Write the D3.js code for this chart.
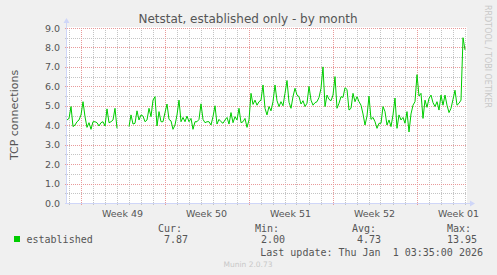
<!DOCTYPE html>
<html><head><meta charset="utf-8">
<script src="https://cdn.jsdelivr.net/npm/d3@7"></script>
<style>
html,body{margin:0;padding:0;background:#F0F0F0;}
svg{display:block;}
text{font-family:"DejaVu Sans",sans-serif;}
.mono{font-family:"DejaVu Sans Mono",monospace;white-space:pre;}
</style></head>
<body><svg id="c" width="497" height="275"></svg>
<script>
// ---- data ----
const title = "Netstat, established only - by month";
const yLabel = "TCP connections";
const seriesName = "established";
const startTime = Date.UTC(2025, 10, 29, 21, 0);   // first sample
const endTime = Date.UTC(2026, 0, 2, 5, 0);        // right edge of graph
const stepHours = 4;
const yTicks = [0, 1, 2, 3, 4, 5, 6, 7, 8, 9];
const values = [
  4.27, 4.35, 4.96, 3.93, 4.01, 4.18, 4.27, 4.53, 5.21, 4.44,
  3.89, 4.13, 3.79, 4.18, 4.18, 4.13, 3.96, 4.13, 4.18, 3.96,
  4.84, 4.13, 4.18, 4.27, 4.87, 3.84, null, null, null, null,
  null, 3.93, 4.53, 4.06, 4.1, 4.74, 4.27, 4.53, 4.47, 4.18,
  4.27, 4.87, 4.44, 5.29, 5.47, 3.96, 4.70, 4.18, 4.18, 4.65,
  5.09, 4.30, 4.22, 3.79, 4.01, 4.53, 5.29, 4.18, 4.4, 4.18,
  4.47, 4.18, 4.35, 3.79, 4.18, 4.18, 4.30, 5.1, 4.3, 4.13,
  4.18, 4.18, 4.01, 4.44, 5.0, 4.06, 4.3, 4.18, 4.1, 4.27,
  4.4, 4.06, 4.65, 4.13, 4.44, 4.27, 4.87, 4.13, 4.18, 4.35,
  3.89, 4.27, 5.64, 5.07, 5.29, 5.03, 5.21, 5.29, 6.07, 4.87,
  4.53, 4.96, 4.74, 5.21, 6.07, 5.26, 4.96, 5.21, 5.0, 5.64,
  6.3, 5.18, 4.87, 5.47, 5.9, 5.55, 5.47, 5.09, 5.26, 4.96,
  5.13, 6.0, 5.29, 5.03, 5.16, 5.21, 5.43, 5.9, 7.0, 4.96,
  5.55, 5.33, 5.26, 5.55, 6.5, 4.87, 5.13, 5.47, 5.43, 5.93,
  5.84, 4.78, 4.87, 5.64, 5.21, 5.47, 5.21, 5.03, 4.58, 4.01,
  4.47, 5.5, 4.3, 4.40, 4.18, 3.84, 4.10, 4.10, 4.96, 4.70,
  4.01, 4.27, 3.93, 4.53, 5.4, 3.84, 4.53, 4.27, 4.40, 4.10,
  4.70, 3.65, 4.58, 5.03, 5.21, 6.6, 5.5, 5.64, 4.35, 5.29,
  4.92, 5.38, 5.55, 5.16, 4.96, 5.21, 4.78, 5.55, 5.03, 5.55,
  5.03, 4.65, 4.87, 5.33, 5.8, 5.03, 5.13, 5.29, 8.5, 7.87
];
const statLabels = ["Cur:", "Min:", "Avg:", "Max:"];
const statValues = ["7.87", "2.00", "4.73", "13.95"];
const lastUpdate = "Last update: Thu Jan  1 03:35:00 2026";
const footer = "Munin 2.0.73";
const watermark = "RRDTOOL / TOBI OETIKER";

// ---- layout ----
const L = 67, R = 467, T = 28, B = 203;
const svg = d3.select("#c");
const x = d3.scaleUtc().domain([new Date(startTime), new Date(endTime)]).range([L, R]);
const y = d3.scaleLinear().domain([0, 9]).range([B, T]);
const px = v => Math.round(v) + 0.5;

svg.append("rect").attr("x", L).attr("y", T - 1).attr("width", R - L).attr("height", B - T + 1).attr("fill", "#fff");

// minor grid
const minorH = d3.range(0, 9.01, 0.5).filter(v => v % 1 !== 0);
const g = svg.append("g");
g.selectAll(".mh").data(minorH).join("line")
  .attr("x1", L - 2).attr("x2", R).attr("y1", d => px(y(d))).attr("y2", d => px(y(d)))
  .attr("stroke", "#c4c4c4").attr("stroke-dasharray", "1,1");
const days = d3.utcDay.range(new Date(startTime), new Date(endTime)).filter(d => d.getUTCDay() !== 1);
g.selectAll(".mv").data(days).join("line")
  .attr("x1", d => px(x(d))).attr("x2", d => px(x(d))).attr("y1", T).attr("y2", B + 2)
  .attr("stroke", "#c4c4c4").attr("stroke-dasharray", "1,1");
// major grid
g.selectAll(".Mh").data(yTicks.filter(v => v > 0)).join("line")
  .attr("x1", L - 2).attr("x2", R).attr("y1", d => px(y(d))).attr("y2", d => px(y(d)))
  .attr("stroke", "#e89a9a").attr("stroke-dasharray", "1,1");
const mondays = d3.utcMonday.range(new Date(startTime), new Date(endTime));
g.selectAll(".Mv").data(mondays).join("line")
  .attr("x1", d => px(x(d))).attr("x2", d => px(x(d))).attr("y1", T).attr("y2", B + 2)
  .attr("stroke", "#e89a9a").attr("stroke-dasharray", "1,1");

// axes
const axisCol = "#CFD6F8";
svg.append("line").attr("x1", L - 0.5).attr("x2", L - 0.5).attr("y1", B + 0.5).attr("y2", T - 6).attr("stroke", axisCol);
svg.append("line").attr("x1", L - 2).attr("x2", R + 4).attr("y1", B + 0.5).attr("y2", B + 0.5).attr("stroke", axisCol);
svg.append("path").attr("d", `M${L - 3.5},${T - 5} L${L - 0.5},${T - 10} L${L + 2.5},${T - 5} Z`).attr("fill", axisCol);
svg.append("path").attr("d", `M${R + 3},${B - 2.5} L${R + 8},${B + 0.5} L${R + 3},${B + 3.5} Z`).attr("fill", axisCol);

// y tick labels
svg.selectAll(".yt").data(yTicks).join("text")
  .attr("x", 60).attr("y", d => y(d) + 3.5).attr("text-anchor", "end")
  .attr("font-size", 9.5).attr("fill", "#555").text(d => d.toFixed(1));

// x labels (centered in each week)
const fmt = d3.utcFormat("Week %V");
const mids = mondays.map(m => new Date(+m + 3.5 * 864e5)).filter(d => +d < endTime);
svg.selectAll(".xt").data(mids).join("text")
  .attr("x", d => x(d)).attr("y", 216.5).attr("text-anchor", "middle")
  .attr("font-size", 9.5).attr("fill", "#555").text(d => fmt(d));

// series
const pts = values.map((v, i) => ({ t: new Date(startTime + i * stepHours * 3600e3), v }));
const line = d3.line().defined(d => d.v != null).x(d => x(d.t)).y(d => y(d.v));
svg.append("path").datum(pts).attr("d", line).attr("fill", "none").attr("stroke", "#00CC00").attr("stroke-width", 1);

// title & labels
svg.append("text").attr("x", 248).attr("y", 22.5).attr("text-anchor", "middle")
  .attr("font-size", 12).attr("fill", "#555").text(title);
svg.append("text").attr("transform", "translate(18,115) rotate(-90)").attr("text-anchor", "middle")
  .attr("font-size", 11).attr("fill", "#555").text(yLabel);
svg.append("text").attr("transform", "translate(485,5) rotate(90)").attr("text-anchor", "start")
  .attr("font-size", 8).attr("fill", "#c8c8c8").text(watermark);

// legend
svg.append("rect").attr("x", 14).attr("y", 236).attr("width", 6).attr("height", 6).attr("fill", "#00CC00");
svg.append("text").attr("class", "mono").attr("x", 26.5).attr("y", 242.5).attr("font-size", 10).attr("fill", "#555").text(seriesName);
const labX = [158, 255, 352, 447];
const valEnd = [188, 285, 381, 477];
svg.selectAll(".sl").data(statLabels).join("text").attr("class", "mono")
  .attr("x", (d, i) => labX[i]).attr("y", 231.5).attr("font-size", 10).attr("fill", "#555").text(d => d);
svg.selectAll(".sv").data(statValues).join("text").attr("class", "mono")
  .attr("x", (d, i) => valEnd[i]).attr("y", 242.5).attr("text-anchor", "end").attr("font-size", 10).attr("fill", "#555").text(d => d);
svg.append("text").attr("class", "mono").attr("x", 483).attr("y", 255.5).attr("text-anchor", "end")
  .attr("font-size", 10).attr("fill", "#555").text(lastUpdate);
svg.append("text").attr("x", 248).attr("y", 267).attr("text-anchor", "middle")
  .attr("font-size", 7.5).attr("fill", "#c8c8c8").text(footer);
</script></body></html>
